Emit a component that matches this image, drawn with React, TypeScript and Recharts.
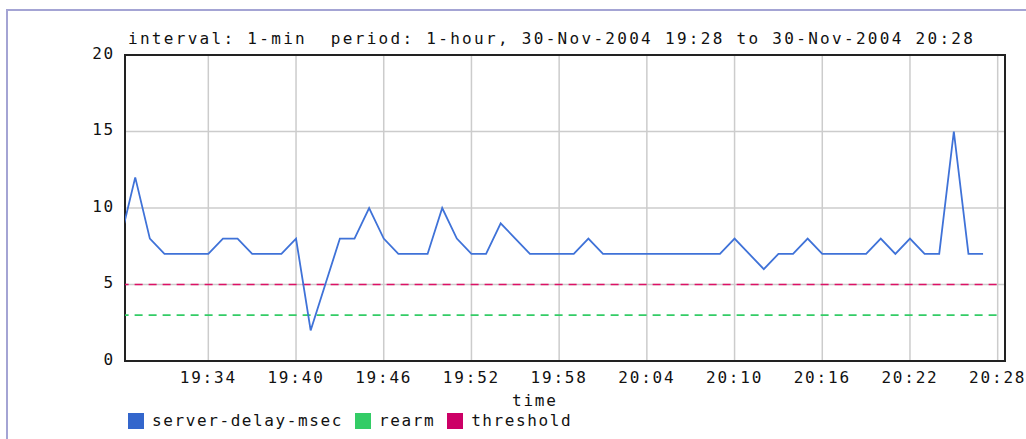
import React from "react";
import {
  LineChart,
  Line,
  XAxis,
  YAxis,
  CartesianGrid,
  ReferenceArea,
} from "recharts";

// minutes after 19:28
const minutes = [
  0, 1, 2, 3, 4, 5, 6, 7, 8, 9, 10, 11, 12, 13, 14, 15, 16, 17, 18, 19, 20, 21,
  22, 23, 24, 25, 26, 27, 28, 29, 30, 31, 32, 33, 34, 35, 36, 37, 38, 39, 40,
  41, 42, 43, 44, 45, 46, 47, 48, 49, 50, 51, 52, 53, 54, 55, 56, 57, 58, 59,
];
const serverDelay = [
  8, 12, 8, 7, 7, 7, 7, 8, 8, 7, 7, 7, 8, 2, 5, 8, 8, 10, 8, 7, 7, 7, 10, 8, 7,
  7, 9, 8, 7, 7, 7, 7, 8, 7, 7, 7, 7, 7, 7, 7, 7, 7, 8, 7, 6, 7, 7, 8, 7, 7, 7,
  7, 8, 7, 8, 7, 7, 15, 7, 7,
];
const rearmLevel = 3;
const thresholdLevel = 5;

const xTicks = [6, 12, 18, 24, 30, 36, 42, 48, 54, 60];
const xTickLabels = [
  "19:34", "19:40", "19:46", "19:52", "19:58",
  "20:04", "20:10", "20:16", "20:22", "20:28",
];
const yTicks = [0, 5, 10, 15, 20];

const title =
  "interval: 1-min  period: 1-hour, 30-Nov-2004 19:28 to 30-Nov-2004 20:28";

const legendItems = [
  { name: "server-delay-msec", color: "#3366cc" },
  { name: "rearm", color: "#33cc66" },
  { name: "threshold", color: "#cc0066" },
];

const data = minutes.map((t, i) => ({ t, delay: serverDelay[i] }));
const rearmData = [
  { t: 0, v: rearmLevel },
  { t: 60, v: rearmLevel },
];
const thresholdData = [
  { t: 0, v: thresholdLevel },
  { t: 60, v: thresholdLevel },
];

const mono = "'DejaVu Sans Mono', monospace";

export default function App() {
  const tickStyle = {
    fontSize: 16,
    fontFamily: mono,
    fill: "#111",
    letterSpacing: 1.8,
  };

  return (
    <div
      style={{
        position: "absolute",
        left: 0,
        top: 0,
        width: 1026,
        height: 439,
        overflow: "hidden",
        background: "#fff",
      }}
    >
      {/* outer frame */}
      <div
        style={{
          position: "absolute",
          left: 6,
          top: 9,
          width: 1200,
          height: 600,
          border: "2px solid #a4a4d4",
        }}
      />

      <div
        style={{
          position: "absolute",
          left: 128,
          top: 31,
          fontFamily: mono,
          fontSize: 16,
          lineHeight: "16px",
          letterSpacing: 2.3,
          whiteSpace: "pre",
          color: "#111",
        }}
      >
        {title}
      </div>

      <div style={{ position: "absolute", left: 0, top: 0 }}>
        <LineChart
          width={1026}
          height={439}
          data={data}
          margin={{ top: 55, right: 21, bottom: 48, left: 85 }}
        >
          <CartesianGrid stroke="#cccccc" strokeWidth={1.5} />
          <XAxis
            dataKey="t"
            type="number"
            domain={[0.3, 60.5]}
            allowDataOverflow
            ticks={xTicks}
            tickFormatter={(v: number) => xTickLabels[xTicks.indexOf(v)] ?? ""}
            tick={tickStyle}
            tickLine={false}
            axisLine={false}
            tickSize={0}
            tickMargin={11}
            height={30}
            interval={0}
          />
          <YAxis
            type="number"
            domain={[0, 20]}
            ticks={yTicks}
            tick={{ ...tickStyle, dy: -2 }}
            tickLine={false}
            axisLine={false}
            tickSize={0}
            tickMargin={10}
            width={40}
          />
          <Line
            data={rearmData}
            dataKey="v"
            stroke="#33cc66"
            strokeWidth={1.6}
            strokeDasharray="8 6"
            dot={false}
            activeDot={false}
            isAnimationActive={false}
          />
          <Line
            data={thresholdData}
            dataKey="v"
            stroke="#dd1166"
            strokeWidth={1.6}
            strokeDasharray="8 6"
            dot={false}
            activeDot={false}
            isAnimationActive={false}
          />
          <Line
            dataKey="delay"
            stroke="#3f72d8"
            strokeWidth={1.8}
            dot={false}
            activeDot={false}
            isAnimationActive={false}
          />
          <ReferenceArea
            x1={0.3}
            x2={60.5}
            y1={0}
            y2={20}
            fill="none"
            stroke="#222"
            strokeWidth={2}
            ifOverflow="visible"
          />
        </LineChart>
      </div>

      <div
        style={{
          position: "absolute",
          left: 512,
          top: 393,
          fontFamily: mono,
          fontSize: 16,
          lineHeight: "16px",
          letterSpacing: 1.8,
          color: "#111",
        }}
      >
        time
      </div>

      <div
        style={{
          position: "absolute",
          left: 128,
          top: 413,
          display: "flex",
          alignItems: "center",
          fontFamily: mono,
          fontSize: 16,
          lineHeight: "16px",
          letterSpacing: 1.6,
          color: "#111",
        }}
      >
        {legendItems.map((it) => (
          <div
            key={it.name}
            style={{ display: "flex", alignItems: "center", marginRight: 12 }}
          >
            <span
              style={{
                display: "inline-block",
                width: 16,
                height: 16,
                background: it.color,
                marginRight: 8,
              }}
            />
            <span>{it.name}</span>
          </div>
        ))}
      </div>
    </div>
  );
}
